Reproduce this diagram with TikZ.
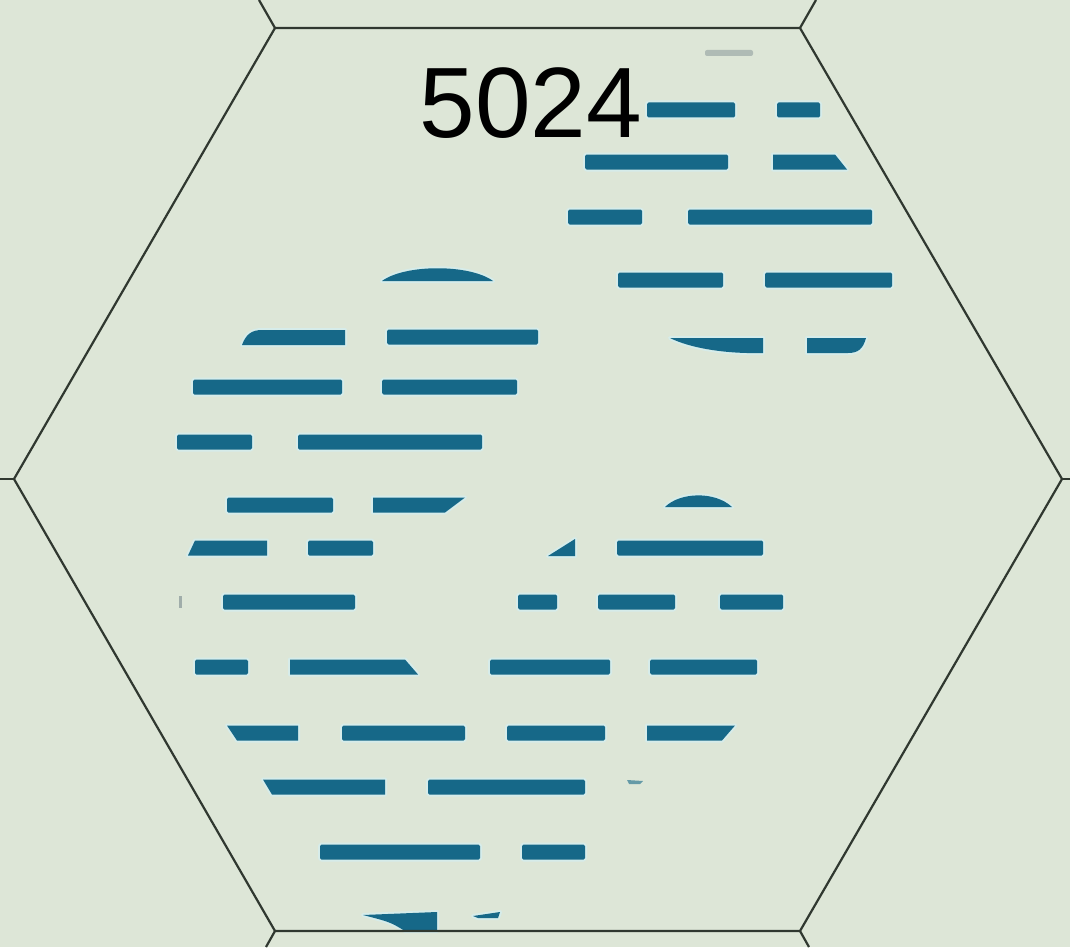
\documentclass[tikz,border=0pt]{standalone}
\usepackage{fontspec}
\setmainfont{Liberation Sans}
\definecolor{bgc}{RGB}{221,230,215}
\definecolor{marsh}{RGB}{22,104,136}
\definecolor{haloc}{RGB}{214,236,234}
\definecolor{hexline}{RGB}{48,56,48}
\definecolor{faintc}{RGB}{120,135,140}
\tikzset{
  halo/.style={draw=haloc,line width=4pt,line join=round},
  marshfill/.style={fill=marsh},
  hexedge/.style={draw=hexline,line width=2.2pt,line join=miter},
  numlabel/.style={font=\fontsize{100}{100}\selectfont,text=black,inner sep=0pt,anchor=base}
}
\newcommand\mrect[3]{%
  \path[halo,rounded corners=1.5pt] (#2,#1-7.5) rectangle (#3,#1+7.5);
  \fill[marshfill,rounded corners=1.5pt] (#2,#1-7.5) rectangle (#3,#1+7.5);}
\newcommand\mquad[5]{%
  \path[halo] (#2,#1-7.5) -- (#4,#1-7.5) -- (#5,#1+7.5) -- (#3,#1+7.5) -- cycle;
  \fill[marshfill] (#2,#1-7.5) -- (#4,#1-7.5) -- (#5,#1+7.5) -- (#3,#1+7.5) -- cycle;}
\newcommand\mshape[1]{%
  \path[halo] #1;
  \fill[marshfill] #1;}
\begin{document}
\begin{tikzpicture}[x=1pt,y=-1pt]
\fill[bgc] (0,0) rectangle (1070,947);
\useasboundingbox (0,0) rectangle (1070,947);
% hex vertices
\coordinate (TL) at (275,28);
\coordinate (TR) at (800,28);
\coordinate (R) at (1062,479);
\coordinate (BR) at (800,931);
\coordinate (BL) at (275,931);
\coordinate (L) at (14,479);
\coordinate (TLo) at (259,0);
\coordinate (TRo) at (816,0);
\coordinate (BLo) at (266,947);
\coordinate (BRo) at (809,947);
\coordinate (Lo) at (0,479);
\coordinate (Ro) at (1070,479);
% faint marks
\fill[faintc,opacity=0.45,rounded corners=2pt] (705,50) rectangle (753,56);
\fill[faintc,opacity=0.6] (179,596) rectangle (182,608);
\fill[marsh,opacity=0.6] (627,780) -- (643,781) -- (640,784) -- (629,784) -- cycle;
% top-right group
\mrect{110}{647}{735} \mrect{110}{777}{820}
\mrect{162}{585}{728} \mquad{162}{773}{773}{835}{847}
\mrect{217}{568}{642} \mrect{217}{688}{872}
\mrect{280}{618}{723} \mrect{280}{765}{892}
\mshape{(670,338) -- (763,338) -- (763,353) .. controls (725,354) and (690,348) .. cycle}
\mshape{(807,338) -- (866,338) .. controls (863,349) and (858,353) .. (848,353) -- (807,353) -- cycle}
% left group
\mshape{(382,281) .. controls (405,264) and (470,264) .. (493,281) -- cycle}
\mshape{(242,345) .. controls (246,334) and (252,330) .. (262,330) -- (345,330) -- (345,345) -- cycle}
\mrect{337}{387}{538}
\mrect{387}{193}{342} \mrect{387}{382}{517}
\mrect{442}{177}{252} \mrect{442}{298}{482}
\mrect{505}{227}{333} \mquad{505}{373}{373}{465}{445}
% bottom group
\mshape{(665,507) .. controls (680,492) and (715,491) .. (732,507) -- cycle}
\mquad{548}{195}{188}{267}{267} \mrect{548}{308}{373}
\mshape{(548,556) -- (575,539) -- (575,556) -- cycle}
\mrect{548}{617}{763}
\mrect{602}{223}{355} \mrect{602}{518}{557} \mrect{602}{598}{675} \mrect{602}{720}{783}
\mrect{667}{195}{248} \mquad{667}{290}{290}{405}{418} \mrect{667}{490}{610} \mrect{667}{650}{757}
\mquad{733}{227}{237}{298}{298} \mrect{733}{342}{465} \mrect{733}{507}{605} \mquad{733}{647}{647}{735}{722}
\mquad{787}{263}{272}{385}{385} \mrect{787}{428}{585}
\mrect{852}{320}{480} \mrect{852}{522}{585}
\mshape{(363,915) -- (437,912) -- (437,931) -- (405,931) .. controls (390,922) .. cycle}
\mshape{(473,916) -- (500,912) -- (498,918) -- (478,918) -- cycle}
% hex outline
\draw[hexedge] (TL) -- (TR) -- (R) -- (BR) -- (BL) -- (L) -- cycle;
\draw[hexedge] (TL) -- (TLo);
\draw[hexedge] (TR) -- (TRo);
\draw[hexedge] (BL) -- (BLo);
\draw[hexedge] (BR) -- (BRo);
\draw[hexedge] (L) -- (Lo);
\draw[hexedge] (R) -- (Ro);
% label
\node[numlabel] (num) at (531,137) {5024};
\end{tikzpicture}
\end{document}
